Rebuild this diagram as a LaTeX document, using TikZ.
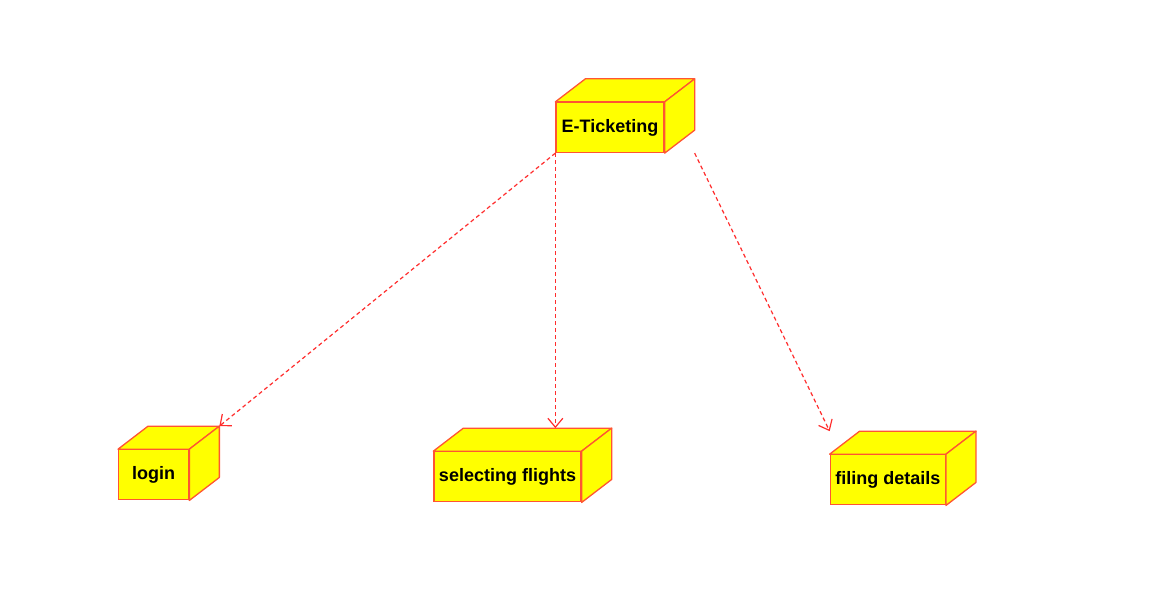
\documentclass[tikz,border=0pt]{standalone}
\usepackage{fontspec}
\setmainfont{Liberation Sans}
\usetikzlibrary{positioning,calc,arrows.meta}
\definecolor{nodeyellow}{RGB}{255,255,0}
\definecolor{nodeedge}{RGB}{255,85,50}
\definecolor{linkred}{RGB}{255,45,45}

\begin{document}
\begin{tikzpicture}[
        x=1pt, y=1pt,
        devnode/.style={
            rectangle,
            minimum height=50pt,
            inner sep=0pt,
            text centered,
            draw=nodeedge,
            line width=1.3pt,
            fill=nodeyellow,
            text=black,
            font=\fontsize{18}{20}\selectfont\bfseries
        },
        devface/.style={
            draw=nodeedge,
            line width=1.3pt,
            fill=nodeyellow,
            line join=round
        },
        deparrow/.style={
            draw=linkred,
            dash pattern=on 4pt off 3pt,
            -{Straight Barb[length=9pt,width=15pt]},
            line width=1.2pt
        }
    ]
    \fill[white] (0,0) rectangle (1155,600);

    % E-Ticketing node at the top
    \node[devnode, minimum width=108pt] (eticket) at (610,472.5) {E-Ticketing};

    % three nodes in a row below it
    \node[devnode, minimum width=70pt, below left=296pt and 366pt of eticket] (login) {login};
    \node[devnode, minimum width=147pt, below=298pt of eticket, xshift=-102.5pt] (flights) {selecting flights};
    \node[devnode, minimum width=115pt, below right=301pt and 165pt of eticket] (filing) {filing details};

    % top and side faces of each box
    \foreach \n in {eticket,login,flights,filing}{
        \filldraw[devface] (\n.north west) -- ++(30,23) -- ($(\n.north east)+(30,23)$) -- (\n.north east) -- cycle;
        \filldraw[devface] (\n.north east) -- ++(30,23) -- ($(\n.south east)+(30,23)$) -- (\n.south east) -- cycle;
        \coordinate (\n-top) at ($(\n.north east)+(30,23)$);
    }

    % dependency arrows
    \draw[deparrow] (eticket.south west) -- (login-top);
    \draw[deparrow] (eticket.south west) -- (eticket.south west |- flights-top);
    \draw[deparrow] (eticket-top |- eticket.south) -- (filing.north west |- filing-top);

\end{tikzpicture}
\end{document}
